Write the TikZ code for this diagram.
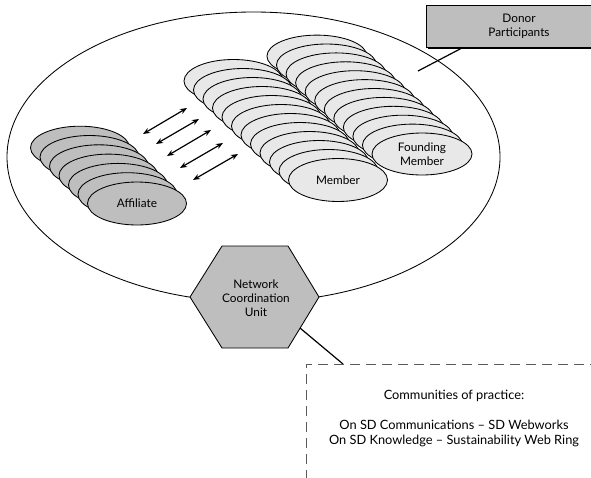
\documentclass[tikz,border=0pt]{standalone}
\usepackage{fontspec}
\setmainfont{Lato}
\usetikzlibrary{shapes.geometric,arrows.meta,shadows}
\definecolor{darkfill}{RGB}{190,190,190}
\definecolor{lightfill}{RGB}{232,232,232}
\definecolor{dashgray}{RGB}{90,90,90}
\begin{document}
\begin{tikzpicture}[x=1pt,y=-1pt,
  every node/.style={font=\fontsize{11.8}{13.8}\selectfont, align=center},
  oval/.style={ellipse, draw=black, line width=0.85pt, inner sep=0pt, minimum width=99pt, minimum height=43pt},
  affil/.style={oval, fill=darkfill},
  memb/.style={oval, fill=lightfill},
  link/.style={line width=1.2pt},
  dbl/.style={line width=1.2pt, {Stealth[length=7pt,width=5.5pt]}-{Stealth[length=7pt,width=5.5pt]}},
  dashline/.style={draw=dashgray, line width=0.9pt, dash pattern=on 10pt off 6pt},
]
\useasboundingbox (0,0) rectangle (591,477);
\clip (0,0) rectangle (591,477);
% outer network ellipse
\node[ellipse, draw, line width=0.85pt, inner sep=0pt, minimum width=493pt, minimum height=290pt] (net) at (253.5,157) {};
% donor box
\node[draw, fill=darkfill, line width=0.9pt, minimum width=186pt, minimum height=42pt, inner sep=0pt,
  drop shadow={shadow xshift=1.5pt, shadow yshift=-1.5pt, opacity=1, fill=black}] (donor) at (519,26) {Donor\\Participants};
\coordinate (dtop) at (463,0);
\coordinate (dend) at (418,71);
\draw[link] (dtop |- donor.south) -- (dend);
% founding member stack
\foreach \i in {11,10,...,1} {
  \node[memb, minimum width=100pt, minimum height=42pt] (f\i) at ({422-9.55*\i},{154-8.9*\i}) {};
}
\node[memb, minimum width=100pt, minimum height=42pt] (f0) at (422,154) {Founding\\Member};
% member stack
\foreach \i in {11,10,...,1} {
  \node[memb] (m\i) at ({338-9.5*\i},{180-9.0*\i}) {};
}
\node[memb] (m0) at (338,180) {Member};
% affiliate stack
\foreach \i in {6,5,...,1} {
  \node[affil] (a\i) at ({137-9.5*\i},{203.5-9.3*\i}) {};
}
\node[affil] (a0) at (137,203.5) {Affiliate};
% double arrows
\coordinate (p1) at (143,134); \coordinate (q1) at (187,108);
\coordinate (p2) at (156,144); \coordinate (q2) at (199,119);
\coordinate (p3) at (167,156); \coordinate (q3) at (211,130);
\coordinate (p4) at (180,168); \coordinate (q4) at (223,143);
\coordinate (p5) at (193,180); \coordinate (q5) at (238,154);
\foreach \k in {1,...,5} { \draw[dbl] (p\k) -- (q\k); }
% hexagon
\coordinate (h1) at (190,297);
\coordinate (h2) at (222,246);
\coordinate (h3) at (288,246);
\coordinate (h4) at (319,297);
\coordinate (h5) at (288,348);
\coordinate (h6) at (222,348);
\draw[fill=darkfill, line width=0.85pt] (h1) -- (h2) -- (h3) -- (h4) -- (h5) -- (h6) -- cycle;
\node (hex) at (256,298) {Network\\Coordination\\Unit};
% connector to communities box
\coordinate (hexc) at (300,328);
\coordinate (cpc) at (343,364);
\draw[link] (hexc) -- (cpc);
% dashed communities box
\coordinate (bl) at (306,480);
\coordinate (tl) at (306,364);
\coordinate (tr) at (595,364);
\draw[dashline] (bl) -- (tl) -- (tr);
\node[font=\fontsize{12.8}{15}\selectfont] (cop) at (454,418) {Communities of practice:\\[15pt]On SD Communications – SD Webworks\\On SD Knowledge – Sustainability Web Ring};
\end{tikzpicture}
\end{document}
